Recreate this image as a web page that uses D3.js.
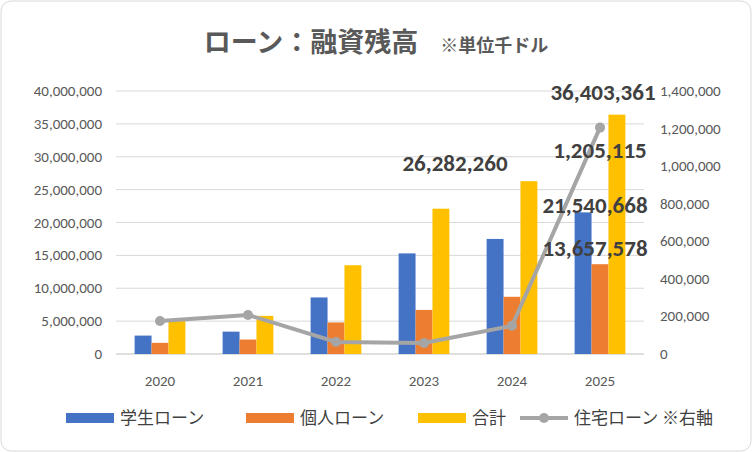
<!DOCTYPE html>
<html><head><meta charset="utf-8">
<script src="https://cdn.jsdelivr.net/npm/d3@7"></script>
<style>body{margin:0;background:#fff;font-family:"Noto Sans CJK JP","Noto Sans",sans-serif}</style>
</head><body><div id="viz"></div>
<script>
var years = ["2020", "2021", "2022", "2023", "2024", "2025"];
var student = [2800000, 3400000, 8600000, 15300000, 17500000, 21540668];
var personal = [1700000, 2200000, 4800000, 6700000, 8700000, 13657578];
var total = [5300000, 5800000, 13500000, 22100000, 26282260, 36403361];
var housing = [176000, 208000, 64000, 59000, 150000, 1205115];
var leftTicks = [0, 5e6, 10e6, 15e6, 20e6, 25e6, 30e6, 35e6, 40e6];
var rightTicks = [0, 2e5, 4e5, 6e5, 8e5, 10e5, 12e5, 14e5];

var W = 752, H = 452;
var svg = d3.select('#viz').append('svg').attr('width', W).attr('height', H);
svg.append('rect').attr('x', 1).attr('y', 1).attr('width', W - 2).attr('height', H - 2)
  .attr('rx', 10).attr('fill', '#fff').attr('stroke', '#d9d9d9');

var title = svg.append('text').attr('x', 376).attr('y', 52).attr('text-anchor', 'middle').attr('fill', '#595959');
title.append('tspan').attr('font-size', 27).attr('font-weight', 'bold').text('ローン：融資残高');
title.append('tspan').attr('dx', 22).attr('font-size', 18).attr('font-weight', 'bold').text('※単位千ドル');

var x0 = d3.scaleBand().domain(years).range([116, 644]);
var x1 = d3.scaleBand().domain([0, 1, 2]).range([0, x0.bandwidth()]).paddingInner(0).paddingOuter(1.1);
var yL = d3.scaleLinear().domain([0, 40e6]).range([354, 91]);
var yR = d3.scaleLinear().domain([0, 1.4e6]).range([354, 91]);
var fmt = d3.format(',');
var numFont = 'Calibri,Carlito,"Liberation Sans",sans-serif';

svg.append('g').selectAll('line').data(leftTicks).join('line')
  .attr('x1', 116).attr('x2', 644).attr('y1', d => yL(d)).attr('y2', d => yL(d))
  .attr('stroke', d => d === 0 ? '#bfbfbf' : '#d9d9d9');

svg.append('g').selectAll('text').data(leftTicks).join('text')
  .attr('x', 102).attr('y', d => yL(d) + 5).attr('text-anchor', 'end')
  .attr('font-size', 15).attr('fill', '#595959').attr('font-family', numFont).text(fmt);
svg.append('g').selectAll('text').data(rightTicks).join('text')
  .attr('x', 660).attr('y', d => yR(d) + 5).attr('text-anchor', 'start')
  .attr('font-size', 15).attr('fill', '#595959').attr('font-family', numFont).text(fmt);
svg.append('g').selectAll('text').data(years).join('text')
  .attr('x', d => x0(d) + x0.bandwidth() / 2).attr('y', 386).attr('text-anchor', 'middle')
  .attr('font-size', 15).attr('fill', '#595959').attr('font-family', numFont).text(d => d);

var series = [student, personal, total];
var colors = ['#4472C4', '#ED7D31', '#FFC000'];
series.forEach(function (s, k) {
  svg.append('g').selectAll('rect').data(s).join('rect')
    .attr('x', (d, i) => x0(years[i]) + x1(k)).attr('width', x1.bandwidth())
    .attr('y', d => yL(d)).attr('height', d => 354 - yL(d)).attr('fill', colors[k]);
});

var cx = (d, i) => x0(years[i]) + x0.bandwidth() / 2;
svg.append('path').datum(housing)
  .attr('d', d3.line().x(cx).y(d => yR(d)))
  .attr('fill', 'none').attr('stroke', '#A5A5A5').attr('stroke-width', 4);
svg.append('g').selectAll('circle').data(housing).join('circle')
  .attr('cx', cx).attr('cy', d => yR(d)).attr('r', 5).attr('fill', '#A5A5A5');

var labels = [
  {v: total[4], x: 455, y: 171},
  {v: total[5], x: 603, y: 100},
  {v: housing[5], x: 600, y: 158},
  {v: student[5], x: 595, y: 213},
  {v: personal[5], x: 595, y: 256}
];
svg.append('g').selectAll('text').data(labels).join('text')
  .attr('x', d => d.x).attr('y', d => d.y).attr('text-anchor', 'middle')
  .attr('font-size', 23).attr('font-weight', 'bold').attr('fill', '#404040')
  .attr('font-family', numFont)
  .text(d => fmt(d.v));

var legend = [
  {name: '学生ローン', c: colors[0], x: 66},
  {name: '個人ローン', c: colors[1], x: 246},
  {name: '合計', c: colors[2], x: 418},
  {name: '住宅ローン ※右軸', c: '#A5A5A5', x: 520, line: true}
];
var lg = svg.append('g').selectAll('g').data(legend).join('g').attr('transform', d => 'translate(' + d.x + ',418)');
lg.filter(d => !d.line).append('rect').attr('x', 0).attr('y', -5).attr('width', 48).attr('height', 10).attr('fill', d => d.c);
lg.filter(d => d.line).append('line').attr('x1', 0).attr('x2', 48).attr('stroke', d => d.c).attr('stroke-width', 4);
lg.filter(d => d.line).append('circle').attr('cx', 24).attr('r', 5).attr('fill', d => d.c);
lg.append('text').attr('x', 54).attr('y', 6).attr('font-size', 17).attr('fill', '#404040').text(d => d.name);
</script></body></html>
